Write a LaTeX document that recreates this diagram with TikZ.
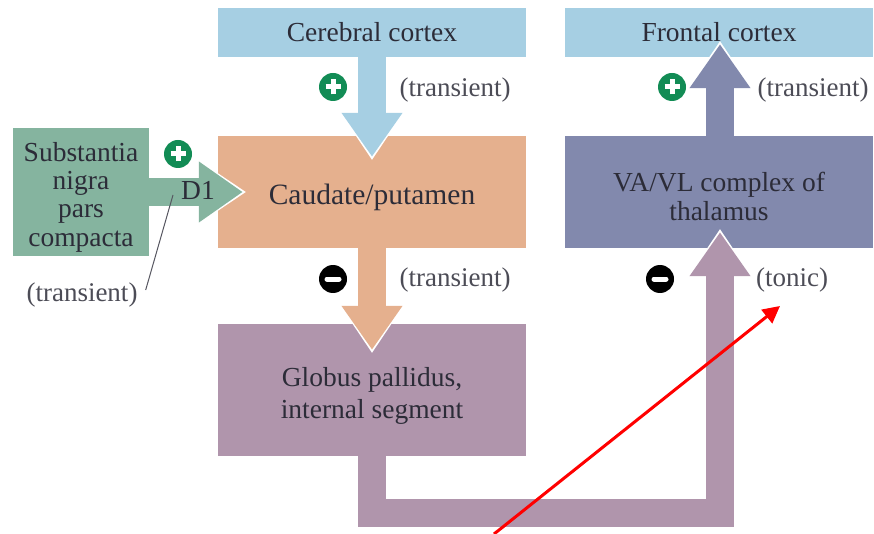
\documentclass[tikz,border=0pt]{standalone}
\usepackage{fontspec}
\setmainfont{Liberation Serif}
\usetikzlibrary{arrows.meta,calc}
\definecolor{cblue}{HTML}{A6CFE3}
\definecolor{corange}{HTML}{E5B08E}
\definecolor{cmauve}{HTML}{B095AC}
\definecolor{cslate}{HTML}{8289AD}
\definecolor{cgreen}{HTML}{85B49F}
\definecolor{cbadge}{HTML}{128C55}
\definecolor{cink}{HTML}{2C2C38}
\newcommand\dn[2]{\raisebox{-#1}[\height][\depth]{\begin{tabular}{@{}c@{}}#2\end{tabular}}}
\tikzset{
  region/.style={inner sep=0pt,align=center,text=cink,font=\fontsize{27.5}{29}\selectfont,minimum width=308pt},
  note/.style={inner sep=0pt,text=cink!85!white,font=\fontsize{27}{29}\selectfont},
  bigarrow/.style={line width=28pt,color=#1,line join=miter,
    -{Triangle[length=44pt,width=58pt]},
    preaction={draw=white,line width=1pt,shorten >=-3pt,-{Triangle[length=47pt,width=63pt]}}},
  badge/.style={circle,minimum size=28pt,inner sep=0pt},
  plusmark/.style={badge,fill=cbadge,path picture={
    \draw[white,line width=5pt] (path picture bounding box.center) ++(-7.5pt,0) -- ++(15pt,0);
    \draw[white,line width=5pt] (path picture bounding box.center) ++(0,-7.5pt) -- ++(0,15pt);}},
  minusmark/.style={badge,fill=black,path picture={
    \draw[white,line width=5pt,line cap=round] (path picture bounding box.center) ++(-6pt,0) -- ++(12pt,0);}},
}
\begin{document}
\begin{tikzpicture}[x=1pt,y=-1pt]
\useasboundingbox (0,0) rectangle (874,534);
% regions
\node[region,fill=cblue,minimum height=49pt] (cer) at (372,32.5) {\dn{3pt}{Cerebral cortex}};
\node[region,fill=cblue,minimum height=49pt] (fro) at (719,32.5) {\dn{3pt}{Frontal cortex}};
\node[region,fill=corange,minimum height=112pt,font=\fontsize{29.5}{31}\selectfont] (cau) at (372,192) {\dn{6pt}{Caudate/putamen}};
\node[region,fill=cslate,minimum height=112pt] (tha) at (719,192) {\dn{8pt}{VA/VL complex of\\thalamus}};
\node[region,fill=cmauve,minimum height=132pt,font=\fontsize{27.5}{32}\selectfont] (glo) at (372,390) {\dn{6.5pt}{Globus pallidus,\\internal segment}};
\node[region,fill=cgreen,minimum width=136pt,minimum height=128pt,font=\fontsize{27.5}{28.4}\selectfont] (sub) at (81,192) {\dn{6pt}{Substantia\\nigra\\pars\\compacta}};
% connectors
\draw[bigarrow=cblue] (cer.south) -- ([yshift=-21pt]cau.north);
\draw[bigarrow=corange] (cau.south) -- ([yshift=-26pt]glo.north);
\draw[bigarrow=cslate] ([xshift=1pt]tha.north) -- ([xshift=1pt,yshift=13pt]fro.south);
\draw[bigarrow=cgreen] (sub.east) -- ([xshift=25pt]cau.west);
\draw[bigarrow=cmauve] ([yshift=2pt]glo.south) -- ++(0,58.5) -| ([xshift=1pt,yshift=16pt]tha.south);
% labels and badges
\node[region,minimum width=0pt] (done) at (198,190) {D1};
\node[plusmark] (p1) at (333,87) {};
\node[plusmark] (p2) at (672,87) {};
\node[plusmark] (p3) at (178,154) {};
\node[minusmark] (m1) at (333,279) {};
\node[minusmark] (m2) at (660,279) {};
\node[note] (t1) at (455,90) {(transient)};
\node[note] (t2) at (813,90) {(transient)};
\node[note] (t3) at (455,280) {(transient)};
\node[note] (t4) at (82,295) {(transient)};
\node[note] (t5) at (792,280) {(tonic)};
\coordinate (lead) at (173,195);
\draw[cink!80!white,line width=1pt] (t4.east) ++(8pt,5pt) -- (lead);
% red overlay arrow
\coordinate (redstart) at (494,534);
\coordinate (redtip) at (780,306);
\draw[red,line width=3pt,-{Triangle[length=17pt,width=17pt]}] (redstart) -- (redtip);
\end{tikzpicture}
\end{document}
